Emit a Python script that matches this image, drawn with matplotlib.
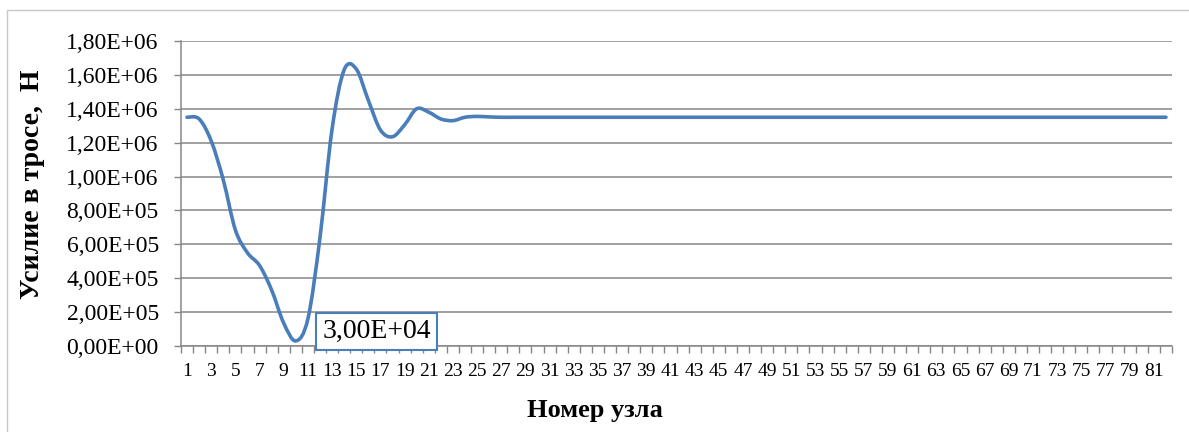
import numpy as np
import matplotlib.pyplot as plt
from matplotlib.path import Path
from matplotlib.patches import PathPatch, Rectangle
from matplotlib.ticker import FuncFormatter, MultipleLocator, FixedLocator

# усилие в тросе по узлам, Н
nodes = list(range(1, 83))
force = [1.35e6, 1.34e6, 1.21e6, 0.98e6, 0.685e6, 0.55e6, 0.475e6, 0.33e6, 0.135e6, 0.03e6,
         0.16e6, 0.64e6, 1.28e6, 1.63e6, 1.635e6, 1.45e6, 1.275e6, 1.235e6, 1.305e6, 1.40e6,
         1.38e6, 1.34e6, 1.33e6, 1.35e6, 1.355e6, 1.352e6] + [1.35e6] * 56
min_label_node = 10

x_ticks = list(range(1, 83, 2))

plt.rcParams['font.family'] = ['Liberation Serif', 'DejaVu Serif']
grid_col = '#868686'
line_col = '#4a7ebb'


def sci_comma(v, pos=None):
    return f'{v:.2E}'.replace('.', ',')


def smooth_path(xs, ys):
    # excel-like smoothed line: cubic bezier, tension 1/6
    pts = np.column_stack([xs, ys]).astype(float)
    n = len(pts)
    verts = [pts[0]]
    codes = [Path.MOVETO]
    for i in range(n - 1):
        p_prev = pts[i - 1] if i > 0 else pts[i]
        p_next2 = pts[i + 2] if i + 2 < n else pts[i + 1]
        c1 = pts[i] + (pts[i + 1] - p_prev) / 6
        c2 = pts[i + 1] - (p_next2 - pts[i]) / 6
        verts += [c1, c2, pts[i + 1]]
        codes += [Path.CURVE4] * 3
    return Path(verts, codes)


fig = plt.figure(figsize=(11.89, 4.32), dpi=100)
ax = fig.add_axes([181 / 1189, 1 - 346 / 432, (1172 - 181) / 1189, (346 - 41) / 432])

# chart-area border
fig.patches.append(Rectangle((7 / 1189, -0.1), 1.2, 1 - 10 / 432 + 0.1, transform=fig.transFigure,
                             fill=False, edgecolor='#c8c8c8', lw=1.0))

ax.add_patch(PathPatch(smooth_path(nodes, force), fill=False, edgecolor=line_col, lw=2.6,
                       capstyle='round', joinstyle='round', zorder=3))

ax.set_xlim(0.5, len(nodes) + 0.5)
ax.set_ylim(0, 1.8e6)
ax.yaxis.set_major_locator(MultipleLocator(2e5))
ax.yaxis.set_major_formatter(FuncFormatter(sci_comma))
ax.grid(axis='y', color=grid_col, lw=1.1)
ax.set_axisbelow(True)

ax.xaxis.set_major_locator(FixedLocator(np.arange(0.5, len(nodes) + 1, 1)))
ax.xaxis.set_major_formatter(FuncFormatter(lambda v, p: ''))
ax.xaxis.set_minor_locator(FixedLocator(x_ticks))
ax.xaxis.set_minor_formatter(FuncFormatter(lambda v, p: f'{int(round(v))}'))
ax.tick_params(axis='x', which='major', length=5, color=grid_col, width=1)
ax.tick_params(axis='x', which='minor', length=0, labelsize=14, pad=12)
ax.tick_params(axis='y', length=5, color=grid_col, width=1, labelsize=17, pad=11)

for s in ['top', 'right']:
    ax.spines[s].set_visible(False)
for s in ['left', 'bottom']:
    ax.spines[s].set_color(grid_col)
    ax.spines[s].set_linewidth(1.1)

# axis titles placed like in the excel chart area
fig.text(33 / 1189, 1 - 184 / 432, 'Усилие в тросе,  Н', fontsize=20, fontweight='bold',
         rotation=90, ha='center', va='center')
fig.text(595 / 1189, 1 - 410 / 432, 'Номер узла', fontsize=19, fontweight='bold',
         ha='center', va='center')

i = nodes.index(min_label_node)
ax.annotate(sci_comma(force[i]), xy=(nodes[i], force[i]), xytext=(58, 7),
            textcoords='offset points', ha='center', va='center', fontsize=20,
            annotation_clip=False, zorder=5,
            bbox=dict(boxstyle='square,pad=0.22', fc='white', ec=line_col, lw=1.5))

fig.savefig('out.png', dpi=100)
